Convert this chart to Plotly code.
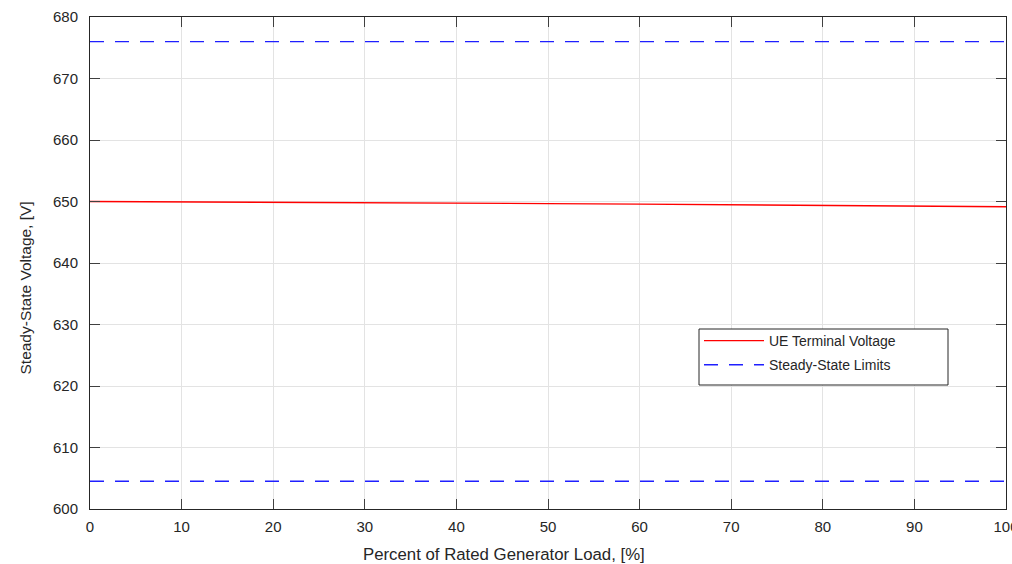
import plotly.graph_objects as go

# Generator load points, percent of rating
load_pct = [0, 10, 20, 30, 40, 50, 60, 70, 80, 90, 100]
# UE terminal voltage at each load point, V
terminal_v = [650.0, 649.95, 649.89, 649.82, 649.75, 649.66, 649.57, 649.47, 649.37, 649.26, 649.15]
# Steady-state voltage band, V
limit_high = 676.0
limit_low = 604.5
limit_x = [0, 100]

x_title = "Percent of Rated Generator Load, [%]"
y_title = "Steady-State Voltage, [V]"

FONT = "Liberation Sans, Arial, Helvetica"
TEXT = "#262626"
LIMIT_LINE = dict(color="#1f1fff", width=1.4, dash="14px,11px")

# page geometry of the plotting area
W, H = 1012, 564
ML, MR, MT, MB = 90, 6, 17, 55
PW, PH = W - ML - MR, H - MT - MB


def px_x(v):
    return (v - ML) / PW


def px_y(v):
    return (H - MB - v) / PH


fig = go.Figure()
fig.add_trace(go.Scatter(
    x=load_pct, y=terminal_v, mode="lines", name="UE Terminal Voltage",
    line=dict(color="#ff0000", width=1.3),
))
fig.add_trace(go.Scatter(
    x=limit_x, y=[limit_high, limit_high], mode="lines", name="Steady-State Limits",
    line=LIMIT_LINE, legendgroup="lim",
))
fig.add_trace(go.Scatter(
    x=limit_x, y=[limit_low, limit_low], mode="lines", name="Steady-State Limits",
    line=LIMIT_LINE, legendgroup="lim", showlegend=False,
))

axis_common = dict(
    showline=True, linecolor=TEXT, linewidth=1, mirror="allticks",
    ticks="inside", ticklen=10, tickcolor="#404040", tickwidth=1,
    showgrid=True, gridcolor="#e3e3e3", gridwidth=1, zeroline=False,
    tickfont=dict(family=FONT, size=15, color=TEXT),
    ticklabeloverflow="allow", automargin=False,
)

fig.update_layout(
    width=W, height=H,
    margin=dict(l=ML, r=MR, t=MT, b=MB),
    paper_bgcolor="white", plot_bgcolor="white",
    font=dict(family=FONT, color=TEXT),
    xaxis=dict(range=[0, 100], dtick=10, ticklabelstandoff=4, **axis_common),
    yaxis=dict(range=[600, 680], dtick=10, ticklabelstandoff=8, **axis_common),
    legend=dict(x=px_x(699), y=px_y(325), xanchor="left", yanchor="top",
                bgcolor="rgba(0,0,0,0)", borderwidth=0,
                font=dict(size=14, color=TEXT), tracegroupgap=3,
                itemwidth=60),
    showlegend=True,
    shapes=[
        # legend frame
        dict(type="rect", xref="paper", yref="paper",
             x0=px_x(699), x1=px_x(948), y0=px_y(385), y1=px_y(329),
             fillcolor="white", line=dict(color=TEXT, width=1), layer="above"),
    ],
    annotations=[
        dict(text=x_title, xref="paper", yref="paper", x=0.452, y=-0.0915,
             xanchor="center", yanchor="middle", showarrow=False,
             font=dict(family=FONT, size=16.8, color=TEXT)),
        dict(text=y_title, xref="paper", yref="paper", x=-0.0705, y=0.449,
             xanchor="center", yanchor="middle", showarrow=False, textangle=-90,
             font=dict(family=FONT, size=15.5, color=TEXT)),
    ],
)

fig.write_html("out.html")
